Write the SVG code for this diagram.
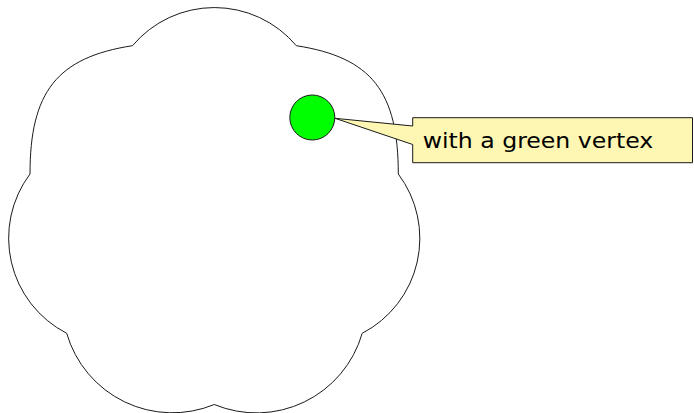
<svg xmlns="http://www.w3.org/2000/svg" width="694" height="413" viewBox="0 0 694 413">
<style>
.ln{stroke:#1a1a1a;stroke-width:1;stroke-linejoin:miter}
.lbl{font-family:"DejaVu Sans","Liberation Sans",sans-serif;font-size:22px;fill:#000}
</style>
<rect width="694" height="413" fill="#fff"/>
<g id="cloud">
<path class="ln" fill="#fff" d="M132.5,45.7 A107,107 0 0 1 296.3,45.7 C371.8,57.3 398.3,91.9 398.3,174 A107,107 0 0 1 362.2,333.3 A110,110 0 0 1 214.3,404.5 A110,110 0 0 1 66.7,333.3 A107,107 0 0 1 30,174 C30,91.9 57,57.3 132.5,45.7 Z"/>
</g>
<g id="vertex">
<circle class="ln" cx="312.3" cy="117.5" r="22.5" fill="#00ff00"/>
</g>
<g id="connectors"></g>
<g id="callout">
<path class="ln" fill="#fdf7b3" d="M412.7,117.7 H692.5 V162.7 H412.7 V144.5 L335,118.3 L412.7,126 Z"/>
<text class="lbl" x="422.7" y="148" textLength="230.6" lengthAdjust="spacingAndGlyphs">with a green vertex</text>
</g>
</svg>
